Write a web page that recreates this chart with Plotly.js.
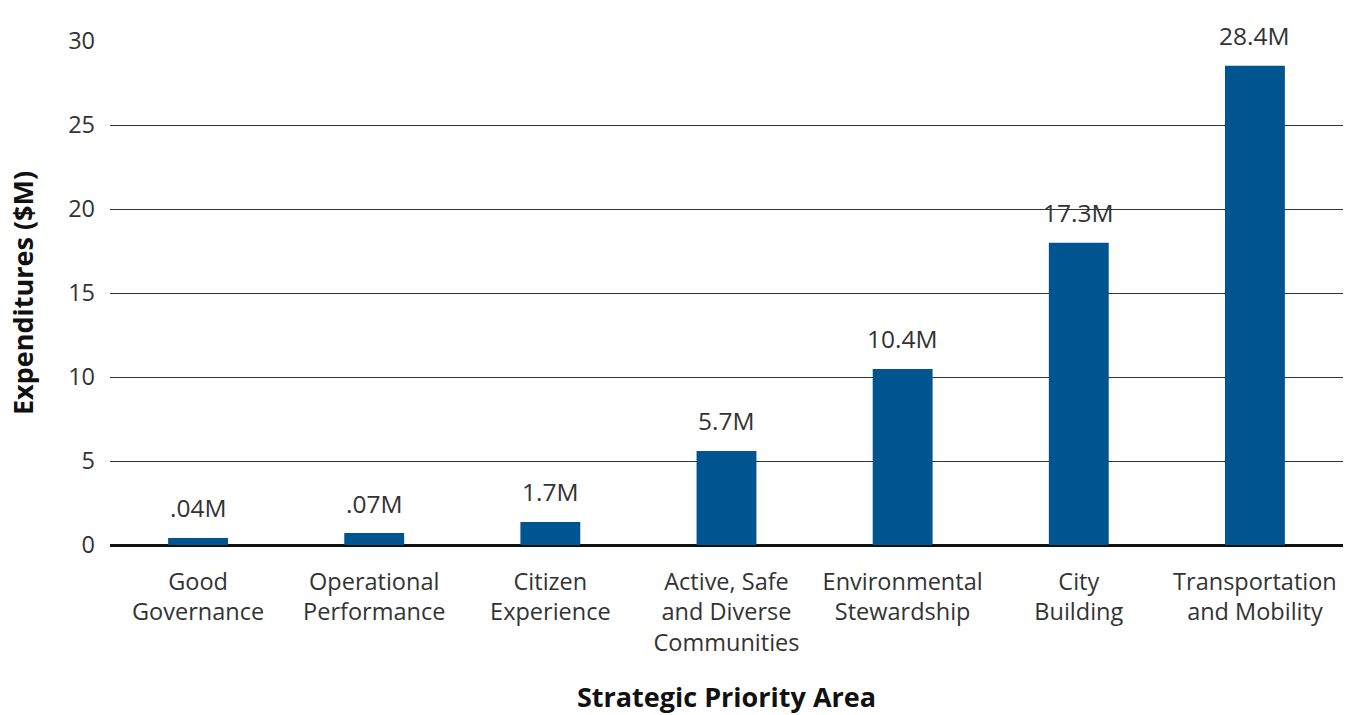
<!DOCTYPE html>
<html>
<head>
<meta charset="utf-8">
<script src="https://cdn.plot.ly/plotly-3.0.1.min.js"></script>
<style>html,body{margin:0;padding:0;background:#fff;}#chart{width:1351px;height:715px;}</style>
</head>
<body>
<div id="chart"></div>
<script>
const categories = ["Good<br>Governance", "Operational<br>Performance", "Citizen<br>Experience", "Active, Safe<br>and Diverse<br>Communities", "Environmental<br>Stewardship", "City<br>Building", "Transportation<br>and Mobility"];
const values = [0.42, 0.71, 1.37, 5.6, 10.48, 17.99, 28.53];
const valueLabels = [".04M", ".07M", "1.7M", "5.7M", "10.4M", "17.3M", "28.4M"];
const yTicks = [0, 5, 10, 15, 20, 25, 30];

const font = "'Open Sans', 'Noto Sans', sans-serif";
const annotations = categories.map((c, i) => ({
  x: c, y: values[i], text: valueLabels[i], showarrow: false,
  yanchor: 'middle', yshift: 30, xref: 'x', yref: 'y',
  font: {family: font, size: 24.5, color: '#333'}
}));

Plotly.newPlot('chart', [{
  type: 'bar', x: categories, y: values,
  marker: {color: '#00548F'}, hoverinfo: 'none'
}], {
  width: 1351, height: 715,
  margin: {l: 110, r: 8, t: 41, b: 170},
  paper_bgcolor: '#fff', plot_bgcolor: '#fff',
  bargap: 0.66,
  showlegend: false,
  font: {family: font, color: '#333'},
  xaxis: {
    tickfont: {family: font, size: 23.5, color: '#333'},
    showgrid: false, ticks: '', showline: false, ticklabelstandoff: 20,
    title: {text: '<b>Strategic Priority Area</b>', font: {family: font, size: 27, color: '#111'}, standoff: 32}
  },
  yaxis: {
    range: [0, 30], tickvals: yTicks, ticktext: yTicks.map(String),
    tickfont: {family: font, size: 23.5, color: '#333'},
    showgrid: true, gridcolor: '#333', gridwidth: 1,
    zeroline: true, zerolinecolor: '#111', zerolinewidth: 3,
    ticks: '', ticklabelstandoff: 14,
    title: {text: '<b>Expenditures ($M)</b>', font: {family: font, size: 27, color: '#111'}, standoff: 26}
  },
  annotations: annotations
}, {displayModeBar: false, staticPlot: true});
</script>
</body>
</html>
